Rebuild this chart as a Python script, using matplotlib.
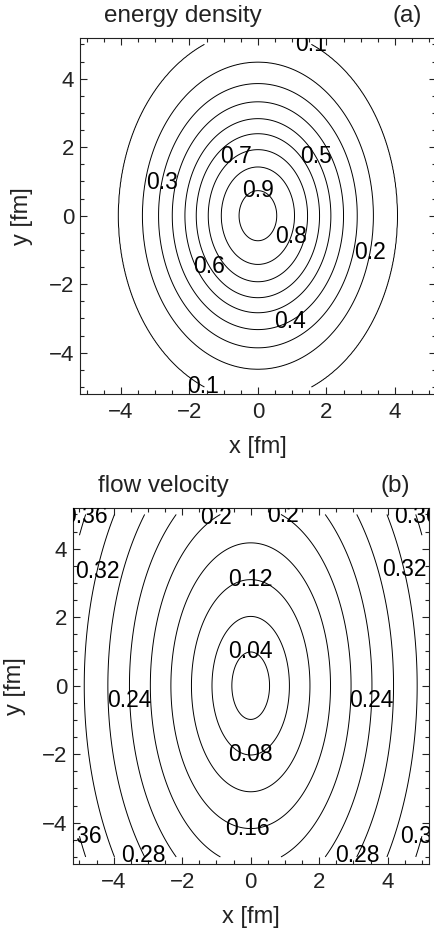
import numpy as np
import matplotlib
matplotlib.use("Agg")
import matplotlib.pyplot as plt
from matplotlib.ticker import MultipleLocator

plt.rcParams["font.family"] = ["Liberation Sans", "DejaVu Sans"]

# ---------------------------------------------------------------- data -----
# (a) energy density: contour levels and the half-width of each contour
#     along the x axis (fm); contours are ellipses
#     with half-height = E_ASPECT * half-width
E_LEVELS = [0.1, 0.2, 0.3, 0.4, 0.5, 0.6, 0.7, 0.8, 0.9]
E_HALF_X = [4.07, 3.37, 2.90, 2.50, 2.13, 1.80, 1.45, 1.07, 0.55]
E_ASPECT = 1.33
E_PEAK = 1.0            # value at the centre
E_OUTER = (6.5, 0.0)    # (radius, value) beyond the plotted range
E_LABELS = [(1.5, 4.94), (-1.6, -4.95), (-2.79, 0.96), (-0.67, 1.77),
            (1.72, 1.73), (0.0, 0.75), (0.94, -0.61), (3.27, -1.07),
            (-1.42, -1.49), (0.94, -3.10)]

# (b) flow velocity
V_LEVELS = [0.04, 0.08, 0.12, 0.16, 0.20, 0.24, 0.28, 0.32, 0.36]
V_HALF_X = [0.55, 1.13, 1.73, 2.33, 2.93, 3.54, 4.17, 4.86, 5.57]
V_ASPECT = 1.79
V_CENTER = 0.0
V_OUTER = (7.5, 0.48)
V_LABELS = [(-4.78, 4.93), (-1.0, 4.89), (0.9, 4.89), (4.8, 4.93),
            (-4.45, 3.33), (4.4, 3.38), (0.0, 3.04), (0.0, 0.99),
            (-3.55, -0.42), (3.55, -0.42), (0.0, -2.07), (-0.1, -4.12),
            (-5.0, -4.31), (-3.1, -4.94), (3.1, -4.94), (5.0, -4.31)]

TICKS = [-4, -2, 0, 2, 4]
DATA_LIM = 5.0          # contours are computed on [-5, 5]^2
PLOT_LIM = 5.2

INK = "#222222"


def build_field(half_x, levels, aspect, centre, outer):
    """Elliptical field whose level curves pass through the measured radii."""
    g = np.linspace(-DATA_LIM, DATA_LIM, 501)
    X, Y = np.meshgrid(g, g)
    r = np.hypot(X, Y / aspect)
    order = np.argsort(half_x)
    rs = np.concatenate([[0.0], np.asarray(half_x)[order], [outer[0]]])
    vs = np.concatenate([[centre], np.asarray(levels)[order], [outer[1]]])
    return X, Y, np.interp(r, rs, vs)


def draw_panel(ax, X, Y, Z, levels, label_pos, fmt):
    cs = ax.contour(X, Y, Z, levels=levels, colors="black", linewidths=0.7)
    texts = ax.clabel(cs, manual=label_pos, inline=False, fontsize=16.5,
                      fmt=fmt, colors="black")
    for t in texts:
        t.set_rotation(0)
        t.set_clip_path(ax.patch)
        t.set_clip_on(True)
    ax.set_xlim(-PLOT_LIM, PLOT_LIM)
    ax.set_ylim(-PLOT_LIM, PLOT_LIM)
    ax.set_xticks(TICKS)
    ax.set_yticks(TICKS)
    ax.xaxis.set_minor_locator(MultipleLocator(0.5))
    ax.yaxis.set_minor_locator(MultipleLocator(0.5))
    ax.tick_params(which="both", direction="in", top=True, right=True,
                   colors=INK, labelsize=16, width=0.8)
    ax.tick_params(which="major", length=5)
    ax.tick_params(which="minor", length=2.8)
    ax.tick_params(axis="x", pad=6)
    ax.tick_params(axis="y", pad=4)
    for s in ax.spines.values():
        s.set_color(INK)
        s.set_linewidth(0.8)
    ax.set_xlabel("x [fm]", fontsize=17, color=INK)
    ax.set_ylabel("y [fm]", fontsize=17, color=INK)
    ax.xaxis.set_label_coords(0.5, -0.118)
    ax.yaxis.set_label_coords(-0.13, 0.5)


fig = plt.figure(figsize=(4.34, 9.32), dpi=100)
W, H = 434.0, 932.0
size = 2 * PLOT_LIM * 34.25
ax_a = fig.add_axes([79.8 / W, (H - 393.8) / H, size / W, size / H])
ax_b = fig.add_axes([72.6 / W, (H - 863.8) / H, size / W, size / H])

Xe, Ye, Ze = build_field(E_HALF_X, E_LEVELS, E_ASPECT, E_PEAK, E_OUTER)
draw_panel(ax_a, Xe, Ye, Ze, E_LEVELS, E_LABELS, "%.1f")

Xv, Yv, Zv = build_field(V_HALF_X, V_LEVELS, V_ASPECT, V_CENTER, V_OUTER)
draw_panel(ax_b, Xv, Yv, Zv, V_LEVELS, V_LABELS, lambda v: f"{v:g}")

fig.text(182.5 / W, 1 - 21.7 / H, "energy density", fontsize=17.5,
         color=INK, ha="center", va="baseline")
fig.text(407.5 / W, 1 - 21.7 / H, "(a)", fontsize=17.5, color=INK,
         ha="center", va="baseline")
fig.text(163 / W, 1 - 491.7 / H, "flow velocity", fontsize=17.5,
         color=INK, ha="center", va="baseline")
fig.text(395 / W, 1 - 491.7 / H, "(b)", fontsize=17.5, color=INK,
         ha="center", va="baseline")

fig.savefig("out.png", dpi=100)
